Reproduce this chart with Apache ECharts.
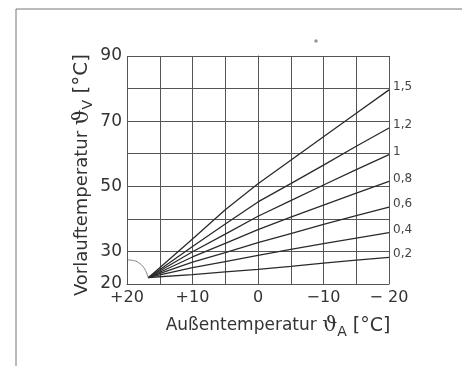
<!DOCTYPE html>
<html><head><meta charset="utf-8">
<script src="https://cdn.jsdelivr.net/npm/echarts@6/dist/echarts.min.js"></script>
<style>html,body{margin:0;padding:0;background:#fff}#c{width:462px;height:366px}</style>
</head><body><div id="c"></div>
<script>
// Outdoor temperature sample points (°C), x axis runs +20 → -20
const outdoorTemps = [16.7, 10, 5, 0, -5, -10, -15, -20];
// Heating curve slopes (labels) and flow temperatures
const curveNames = ['1,5', '1,2', '1', '0,8', '0,6', '0,4', '0,2'];
const curve15 = [22, 33.8, 42.8, 50.8, 58.0, 65.2, 72.4, 79.6];
const curve12 = [22, 31.5, 38.4, 45.2, 50.8, 56.5, 62.3, 67.9];
const curve10 = [22, 29.9, 35.3, 40.8, 45.6, 50.4, 55.1, 59.7];
const curve08 = [22, 28.3, 32.5, 36.7, 40.5, 44.2, 47.9, 51.5];
const curve06 = [22, 26.7, 29.6, 32.7, 35.5, 38.3, 41.0, 43.6];
const curve04 = [22, 25.0, 26.9, 28.8, 30.6, 32.4, 34.1, 35.8];
const curve02 = [22, 22.9, 23.7, 24.5, 25.4, 26.4, 27.3, 28.2];
// Small arc at the origin of the curves
const arcT = [20, 19, 18, 17.3, 16.9, 16.7];
const arcV = [27.4, 27.2, 26.2, 24.6, 22.8, 21.6];
// Tick labels
const xTickLabels = {'20': '+20', '10': '+10', '0': '0', '-10': '\u221210', '-20': '\u2212 20'};
const yTickLabels = [20, 30, 50, 70, 90];

const curves = [curve15, curve12, curve10, curve08, curve06, curve04, curve02];
const lineColor = '#2a2a2a';
const gridColor = '#555';
const font = 'DejaVu Sans';

const series = curves.map((vals, i) => ({
  name: curveNames[i],
  type: 'line',
  data: outdoorTemps.map((t, j) => {
    const item = {value: [t, vals[j]]};
    if (j === outdoorTemps.length - 1) {
      item.label = {
        show: true, position: 'right', distance: 4, offset: [0, -3],
        formatter: curveNames[i], color: '#444', fontFamily: font, fontSize: 12
      };
    }
    return item;
  }),
  symbol: 'circle', symbolSize: 0.1, showSymbol: true,
  itemStyle: {color: lineColor},
  lineStyle: {color: lineColor, width: 1.3},
  silent: true
}));
series.push({
  name: 'arc', type: 'line', smooth: true, symbol: 'none',
  data: arcT.map((t, j) => [t, arcV[j]]),
  lineStyle: {color: '#666', width: 0.8}, silent: true
});

function richName(size) {
  return {
    t: {fontSize: size, color: '#333', fontFamily: font, lineHeight: 26, verticalAlign: 'middle'},
    th: {fontSize: size + 4, color: '#333', fontFamily: 'DejaVu Serif', lineHeight: 26, verticalAlign: 'middle'},
    sub: {fontSize: 14, color: '#333', fontFamily: font, lineHeight: 26, verticalAlign: 'bottom', padding: [12, 0, 0, 0]},
    br: {fontSize: size + 2, color: '#333', fontFamily: font, lineHeight: 26, verticalAlign: 'middle'}
  };
}

const chart = echarts.init(document.getElementById('c'), null, {renderer: 'canvas'});
chart.setOption({
  backgroundColor: '#fff',
  animation: false,
  textStyle: {fontFamily: font},
  grid: {left: 127, right: 73, top: 56, bottom: 82},
  xAxis: {
    type: 'value', inverse: true, min: -20, max: 20, interval: 5,
    axisLine: {lineStyle: {color: gridColor, width: 1}},
    axisTick: {show: false},
    splitLine: {show: true, lineStyle: {color: gridColor, width: 1}},
    axisLabel: {
      color: '#333', fontSize: 16, fontFamily: font, margin: 6,
      formatter: v => (xTickLabels[String(v)] !== undefined ? xTickLabels[String(v)] : '')
    },
    name: '{t|Au\u00dfentemperatur }{th|\u03d1}{sub|A}{br| [\u00b0C]}',
    nameLocation: 'middle', nameGap: 29,
    nameTextStyle: {padding: [0, 0, 0, 40], rich: richName(17)}
  },
  yAxis: {
    type: 'value', min: 20, max: 90, interval: 10,
    axisLine: {show: true, lineStyle: {color: gridColor, width: 1}},
    axisTick: {show: false},
    splitLine: {show: true, lineStyle: {color: gridColor, width: 1}},
    axisLabel: {
      color: '#333', fontSize: 17, fontFamily: font, margin: 5,
      formatter: v => (yTickLabels.indexOf(v) >= 0 ? String(v) : '')
    },
    name: '{t|Vorlauftemperatur }{th|\u03d1}{sub|V}{br| [\u00b0C]}',
    nameLocation: 'middle', nameGap: 32, nameMoveOverlap: false,
    nameTextStyle: {padding: [0, 10, 0, 0], rich: richName(18)}
  },
  graphic: [
    {type: 'line', shape: {x1: 16, y1: 9, x2: 462, y2: 9}, style: {stroke: '#777', lineWidth: 1}, silent: true},
    {type: 'line', shape: {x1: 16, y1: 9, x2: 16, y2: 366}, style: {stroke: '#777', lineWidth: 1}, silent: true},
    {type: 'circle', shape: {cx: 316, cy: 41, r: 1.8}, style: {fill: '#999'}, silent: true}
  ],
  series: series
});
</script></body></html>
